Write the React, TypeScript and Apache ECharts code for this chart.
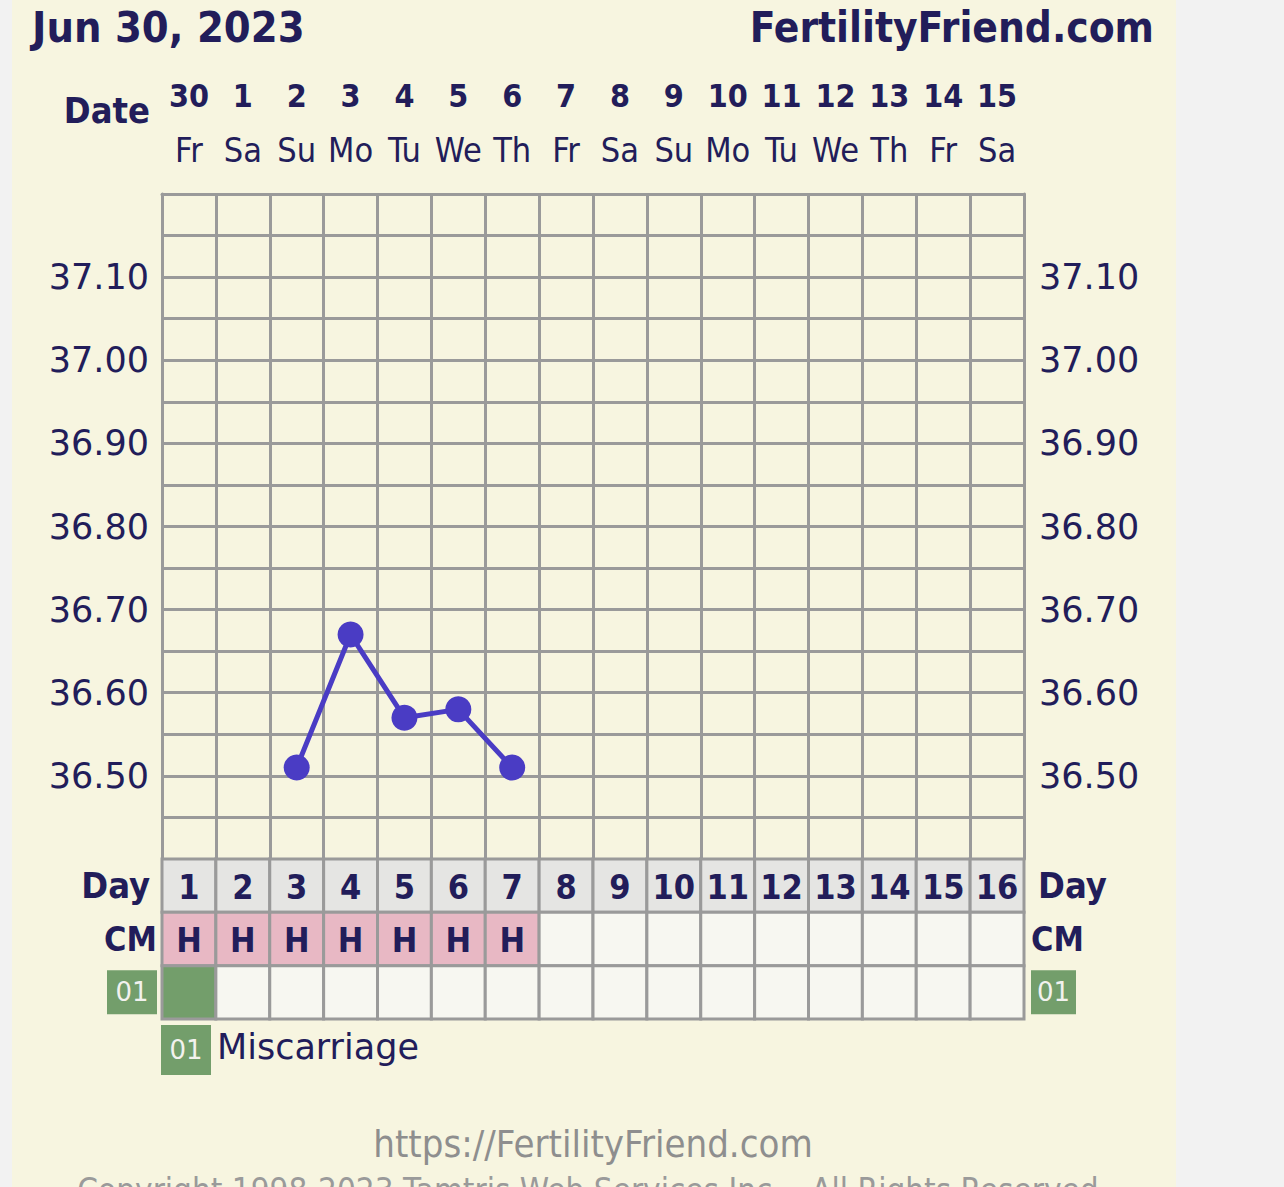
import React, { useEffect, useRef } from "react";
import * as echarts from "echarts";

const dates = ["30", "1", "2", "3", "4", "5", "6", "7", "8", "9", "10", "11", "12", "13", "14", "15"];
const weekdays = ["Fr", "Sa", "Su", "Mo", "Tu", "We", "Th", "Fr", "Sa", "Su", "Mo", "Tu", "We", "Th", "Fr", "Sa"];
const cycleDays = ["1", "2", "3", "4", "5", "6", "7", "8", "9", "10", "11", "12", "13", "14", "15", "16"];
const temps: (number | null)[] = [null, null, 36.51, 36.67, 36.57, 36.58, 36.51, null, null, null, null, null, null, null, null, null];
const cervicalMucus = ["H", "H", "H", "H", "H", "H", "H", "", "", "", "", "", "", "", "", ""];
const notes = ["01", "", "", "", "", "", "", "", "", "", "", "", "", "", "", ""];
const rowLabels = ["Day", "CM", "01"];

const NAVY = "#221d5a";
const GRID = "#9a9a9a";
const COND = "'DejaVu Sans Condensed', 'Liberation Sans Narrow', 'DejaVu Sans', sans-serif";
const SANS = "'DejaVu Sans', Verdana, sans-serif";

export default function App() {
  const ref = useRef<HTMLDivElement>(null);
  useEffect(() => {
    document.body.style.margin = "0";
    const chart = echarts.init(ref.current!, null, { renderer: "svg" });

    const cells: { c: number; r: number; text: string; fill: string; color: string; bold: boolean }[] = [];
    cycleDays.forEach((d, c) => cells.push({ c, r: 0, text: d, fill: "#e5e5e3", color: NAVY, bold: true }));
    cervicalMucus.forEach((m, c) => cells.push({ c, r: 1, text: m, fill: m ? "#e8b8c4" : "#f7f7f1", color: NAVY, bold: true }));
    notes.forEach((n, c) => cells.push({ c, r: 2, text: "", fill: n ? "#739e6b" : "#f7f7f1", color: NAVY, bold: false }));

    const tempLabel = (v: number) => {
      const k = Math.round(v * 100);
      if (k % 10 !== 0 || k === 3640 || k === 3720) return "";
      return v.toFixed(2);
    };

    const makeRich = (side: "left" | "right") => ({
      day: {
        fontFamily: COND, fontWeight: "bold", fontSize: 36, color: NAVY,
        padding: side === "left" ? [0, 7, 0, 0] : [0, 0, 0, 7],
      },
      cm: { fontFamily: COND, fontWeight: "bold", fontSize: 34, color: NAVY },
      g: {
        fontFamily: SANS, fontSize: 26, color: "#f2f2ee", backgroundColor: "#739e6b",
        width: side === "left" ? 50 : 45, height: 44, lineHeight: 44, align: "center",
      },
    });
    const rowFmt = (v: string) => (v === "Day" ? `{day|${v}}` : v === "CM" ? `{cm|${v}}` : `{g|${v}}`);

    chart.setOption({
      animation: false,
      backgroundColor: "#f2f2f2",
      graphic: [
        { type: "rect", z: -100, shape: { x: 12, y: 0, width: 1164, height: 1187 }, style: { fill: "#f7f5e0" } },
        { type: "text", x: 32, y: 27, style: { text: "Jun 30, 2023", font: `bold 43px ${COND}`, fill: NAVY, verticalAlign: "middle" } },
        { type: "text", x: 1154, y: 27, style: { text: "FertilityFriend.com", font: `bold 42px ${COND}`, fill: NAVY, align: "right", verticalAlign: "middle" } },
        { type: "text", x: 150, y: 110, style: { text: "Date", font: `bold 36px ${COND}`, fill: NAVY, align: "right", verticalAlign: "middle" } },
        { type: "rect", shape: { x: 161, y: 1025, width: 50, height: 50 }, style: { fill: "#739e6b" } },
        { type: "text", x: 186, y: 1050, style: { text: "01", font: `26px ${SANS}`, fill: "#f2f2ee", align: "center", verticalAlign: "middle" } },
        { type: "text", x: 217, y: 1047, style: { text: "Miscarriage", font: `35px ${SANS}`, fill: NAVY, verticalAlign: "middle" } },
        { type: "text", x: 593, y: 1144, style: { text: "https://FertilityFriend.com", font: `38px ${COND}`, fill: "#8e8e8e", align: "center", verticalAlign: "middle" } },
        { type: "text", x: 588, y: 1190, style: { text: "Copyright 1998-2023 Tamtris Web Services Inc. - All Rights Reserved", font: `33px ${COND}`, fill: "#9a9a9a", align: "center", verticalAlign: "middle" } },
      ],
      grid: [
        { left: 162, top: 194, width: 862, height: 665 },
        { left: 162, top: 859, width: 862, height: 160 },
      ],
      xAxis: [
        {
          gridIndex: 0, type: "category", data: dates, position: "top", boundaryGap: true,
          axisLine: { show: true, lineStyle: { color: GRID, width: 3 } },
          axisTick: { show: false },
          splitLine: { show: true, interval: 0, lineStyle: { color: GRID, width: 3 } },
          axisLabel: {
            interval: 0, margin: 17,
            formatter: (v: string, i: number) => `{d|${v}}\n{w|${weekdays[i]}}`,
            rich: {
              d: { fontFamily: COND, fontWeight: "bold", fontSize: 32, color: NAVY, lineHeight: 54 },
              w: { fontFamily: COND, fontSize: 34, color: NAVY, lineHeight: 54 },
            },
          },
        },
        {
          gridIndex: 1, type: "category", data: cycleDays, boundaryGap: true,
          axisLine: { show: false }, axisTick: { show: false }, axisLabel: { show: false }, splitLine: { show: false },
        },
      ],
      yAxis: [
        {
          gridIndex: 0, type: "value", min: 36.4, max: 37.2, interval: 0.05, position: "left",
          axisLine: { show: true, lineStyle: { color: GRID, width: 3 } },
          axisTick: { show: false },
          splitLine: { show: true, lineStyle: { color: GRID, width: 3 } },
          axisLabel: { formatter: tempLabel, margin: 13, fontFamily: SANS, fontSize: 35, color: NAVY },
        },
        {
          gridIndex: 0, type: "value", min: 36.4, max: 37.2, interval: 0.05, position: "right",
          axisLine: { show: true, lineStyle: { color: GRID, width: 3 } },
          axisTick: { show: false }, splitLine: { show: false },
          axisLabel: { formatter: tempLabel, margin: 15, fontFamily: SANS, fontSize: 35, color: NAVY },
        },
        {
          gridIndex: 1, type: "category", data: rowLabels, inverse: true, position: "left",
          axisLine: { show: false }, axisTick: { show: false }, splitLine: { show: false },
          axisLabel: { interval: 0, margin: 5, formatter: rowFmt, rich: makeRich("left") },
        },
        {
          gridIndex: 1, type: "category", data: rowLabels, inverse: true, position: "right",
          axisLine: { show: false }, axisTick: { show: false }, splitLine: { show: false },
          axisLabel: { interval: 0, margin: 7, formatter: rowFmt, rich: makeRich("right") },
        },
      ],
      series: [
        {
          type: "line", xAxisIndex: 0, yAxisIndex: 0, data: temps, connectNulls: false,
          symbol: "circle", symbolSize: 26, z: 5,
          lineStyle: { color: "#4a3cc4", width: 5 }, itemStyle: { color: "#4a3cc4" },
        },
        {
          type: "custom", xAxisIndex: 1, yAxisIndex: 2,
          data: cells.map((c) => [c.c, c.r]),
          renderItem: (params: any, api: any) => {
            const cell = cells[params.dataIndex];
            const p = api.coord([api.value(0), api.value(1)]);
            const s = api.size([1, 1]);
            return {
              type: "group",
              children: [
                {
                  type: "rect",
                  shape: { x: p[0] - s[0] / 2, y: p[1] - s[1] / 2, width: s[0], height: s[1] },
                  style: { fill: cell.fill, stroke: GRID, lineWidth: 3 },
                },
                {
                  type: "text",
                  style: {
                    text: cell.text, x: p[0], y: p[1] + 1, align: "center", verticalAlign: "middle",
                    fontFamily: COND, fontWeight: cell.bold ? "bold" : "normal", fontSize: 34, fill: cell.color,
                  },
                },
              ],
            };
          },
        },
      ],
    });
    return () => chart.dispose();
  }, []);
  return <div ref={ref} style={{ width: 1284, height: 1187 }} />;
}
